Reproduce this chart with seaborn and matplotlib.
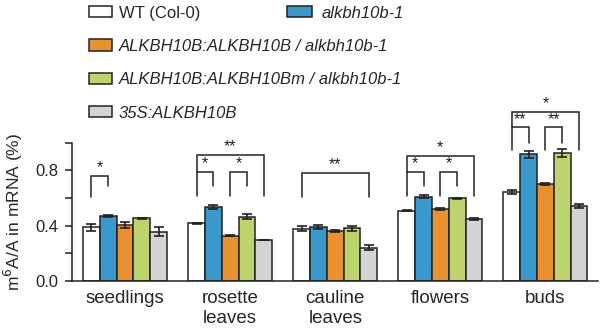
import numpy as np
import pandas as pd
import matplotlib
matplotlib.use("Agg")
import matplotlib.pyplot as plt
from matplotlib.patches import Patch
from matplotlib.container import BarContainer
import seaborn as sns

sns.set_theme(style="ticks")
plt.rcParams["font.family"] = ["Liberation Sans", "DejaVu Sans"]

tissues = ["seedlings", "rosette\nleaves", "cauline\nleaves", "flowers", "buds"]
genotypes = ["WT (Col-0)", "alkbh10b-1", "ALKBH10B:ALKBH10B / alkbh10b-1",
             "ALKBH10B:ALKBH10Bm / alkbh10b-1", "35S:ALKBH10B"]
colors = ["#ffffff", "#3b98cc", "#e9902f", "#bdd46e", "#d4d4d4"]

wt_mean = [0.390, 0.417, 0.378, 0.508, 0.643]
mut_mean = [0.470, 0.537, 0.393, 0.610, 0.916]
comp_mean = [0.405, 0.328, 0.362, 0.520, 0.701]
compm_mean = [0.453, 0.465, 0.380, 0.598, 0.923]
oe_mean = [0.357, 0.296, 0.241, 0.448, 0.542]

wt_err = [0.025, 0.005, 0.020, 0.003, 0.015]
mut_err = [0.008, 0.015, 0.015, 0.012, 0.025]
comp_err = [0.025, 0.004, 0.010, 0.008, 0.010]
compm_err = [0.005, 0.020, 0.020, 0.003, 0.030]
oe_err = [0.030, 0.003, 0.020, 0.010, 0.012]

means = [wt_mean, mut_mean, comp_mean, compm_mean, oe_mean]
errs = [wt_err, mut_err, comp_err, compm_err, oe_err]

# significance brackets: (tissue index, left genotype, right genotype,
#                         top, left leg bottom, right leg bottom, label)
brackets = [
    (0, 0, 1, 0.76, 0.61, 0.686, "*"),
    (1, 0, 1, 0.79, 0.615, 0.686, "*"),
    (1, 2, 3, 0.79, 0.615, 0.686, "*"),
    (1, 0, 4, 0.91, 0.79, 0.615, "**"),
    (2, 0, 4, 0.78, 0.61, 0.61, "**"),
    (3, 0, 1, 0.786, 0.615, 0.686, "*"),
    (3, 2, 3, 0.786, 0.615, 0.686, "*"),
    (3, 0, 4, 0.906, 0.786, 0.615, "*"),
    (4, 0, 1, 1.11, 0.95, 0.995, "**"),
    (4, 2, 3, 1.11, 0.95, 0.995, "**"),
    (4, 0, 4, 1.222, 1.11, 0.95, "*"),
]

rows = []
for g, m in zip(genotypes, means):
    for t, v in zip(tissues, m):
        rows.append({"tissue": t, "genotype": g, "value": v})
df = pd.DataFrame(rows)

fig = plt.figure(figsize=(6.0, 3.29), dpi=100)
ax = fig.add_axes([0.12, 0.1459, 0.877, 0.4204])

sns.barplot(data=df, x="tissue", y="value", hue="genotype",
            order=tissues, hue_order=genotypes, palette=colors,
            saturation=1, width=0.8, edgecolor="#222222", linewidth=1.1,
            errorbar=None, legend=False, ax=ax)

# bar centres per genotype, taken from the drawn patches
bar_conts = [c for c in ax.containers if isinstance(c, BarContainer)]
centers = [[b.get_x() + b.get_width() / 2 for b in cont] for cont in bar_conts]

for j in range(len(genotypes)):
    ax.errorbar(centers[j], means[j], yerr=errs[j], fmt="none", ecolor="#222222",
                elinewidth=1.2, capsize=3.5, capthick=1.2, zorder=5)

for t, a, b, top, lb, rb, lab in brackets:
    xa, xb = centers[a][t], centers[b][t]
    ax.plot([xa, xa, xb, xb], [lb, top, top, rb], color="#222222",
            lw=1.1, clip_on=False, solid_joinstyle="miter")
    ax.text((xa + xb) / 2, top + 0.005, lab, ha="center", va="bottom",
            fontsize=11.5, color="#222222", clip_on=False)

ax.set_xlim(-0.505, 4.502)
ax.set_ylim(0, 1.0)
ax.set_yticks([0.0, 0.2, 0.4, 0.6, 0.8, 1.0])
ax.set_yticklabels(["0.0", "", "0.4", "", "0.8", ""], fontsize=12)
ax.tick_params(axis="y", direction="out", length=5, width=1.1, pad=5,
               color="#222222")
ax.tick_params(axis="x", length=0, labelsize=13.5, pad=6.5)
for lbl in ax.get_xticklabels():
    lbl.set_linespacing(1.25)
ax.set_xlabel("")
ax.set_ylabel("m$^6$A/A in mRNA (%)", fontsize=12.5)
ax.yaxis.set_label_coords(-0.090, 0.5)
for s in ("top", "right"):
    ax.spines[s].set_visible(False)
for s in ("left", "bottom"):
    ax.spines[s].set_linewidth(1.1)
    ax.spines[s].set_color("#222222")

def handle(c):
    return Patch(facecolor=c, edgecolor="#222222", linewidth=1.1)

left_idx = [0, 2, 3, 4]
leg1 = fig.legend([handle(colors[i]) for i in left_idx],
                  [genotypes[i] for i in left_idx],
                  loc="upper left", bbox_to_anchor=(0.148, 0.983),
                  frameon=False, fontsize=12, handlelength=1.38,
                  handleheight=0.66, handletextpad=0.42, labelspacing=1.1,
                  borderpad=0.0, borderaxespad=0.0)
for txt in leg1.get_texts()[1:]:
    txt.set_style("italic")

leg2 = fig.legend([handle(colors[1])], [genotypes[1]],
                  loc="upper left", bbox_to_anchor=(0.478, 0.983),
                  frameon=False, fontsize=12, handlelength=1.5,
                  handleheight=0.66, handletextpad=0.6,
                  borderpad=0.0, borderaxespad=0.0)
for txt in leg2.get_texts():
    txt.set_style("italic")

fig.savefig("out.png", dpi=100)
